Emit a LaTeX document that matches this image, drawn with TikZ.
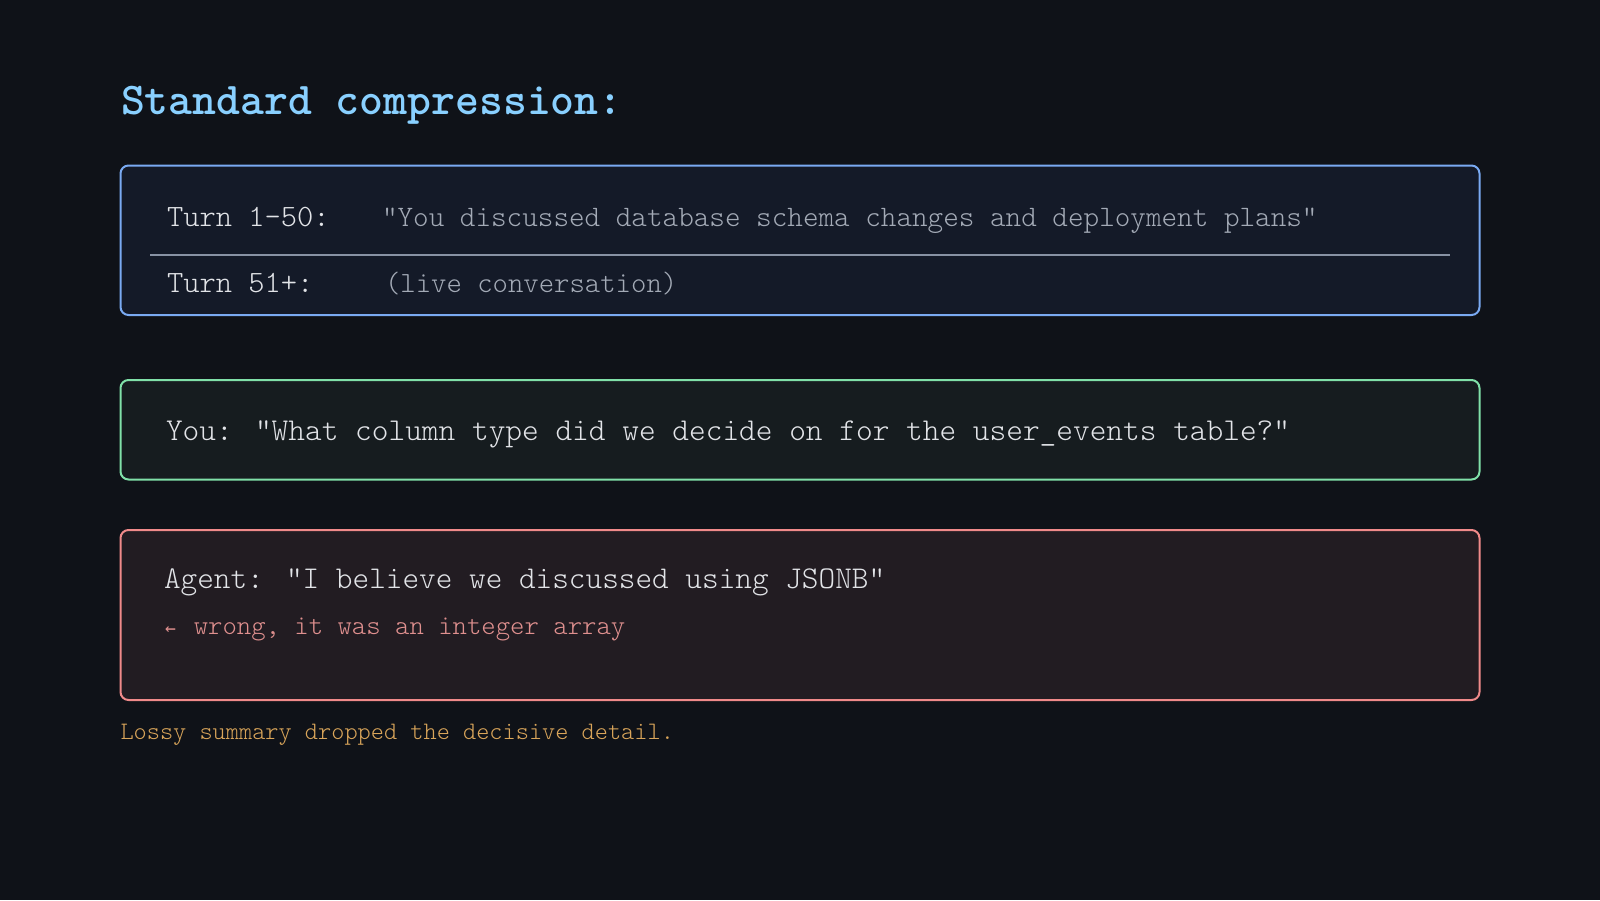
\documentclass[tikz,border=0pt]{standalone}
\usepackage{fontspec}
\newfontfamily\arrowfont{DejaVu Sans Mono}
\newfontfamily\lightmono{Latin Modern Mono Light}
\definecolor{bg}{HTML}{0F1218}
\definecolor{titlecol}{HTML}{89D0FF}
\definecolor{bluebd}{HTML}{7AAAF2}
\definecolor{bluefill}{HTML}{141A28}
\definecolor{greenbd}{HTML}{80E0A8}
\definecolor{greenfill}{HTML}{161C1F}
\definecolor{redbd}{HTML}{F08A8A}
\definecolor{redfill}{HTML}{221C22}
\definecolor{divcol}{HTML}{8892A4}
\definecolor{maintxt}{HTML}{E2E4E8}
\definecolor{graytxt}{HTML}{A3AAB6}
\definecolor{wrongtxt}{HTML}{E0908F}
\definecolor{ambertxt}{HTML}{D9A55A}
\tikzset{
  panel/.style={line width=2pt, rounded corners=8pt},
  txt/.style={anchor=base west, inner sep=0pt, outer sep=0pt, font=\lightmono},
}
\begin{document}
\begin{tikzpicture}[x=1pt,y=-1pt]
\fill[bg] (0,0) rectangle (1600,900);
\useasboundingbox (0,0) rectangle (1600,900);

\node[txt, text=titlecol, font=\ttfamily\bfseries\fontsize{45.5}{45.5}\selectfont] (title) at (121,114) {Standard compression:};

% box 1
\draw[panel, draw=bluebd, fill=bluefill] (120.5,165.5) rectangle (1479.5,315);
\coordinate (divL) at (150,255);
\coordinate (divR) at (1450,255);
\draw[divcol, line width=2pt] (divL) -- (divR);
\node[txt, text=maintxt, font=\lightmono\fontsize{31}{31}\selectfont] (l1) at (167,226) {Turn 1-50:};
\node[txt, text=graytxt, font=\lightmono\fontsize{29.7}{29.7}\selectfont] (s1) at (382,226) {"You discussed database schema changes and deployment plans"};
\node[txt, text=maintxt, font=\lightmono\fontsize{31}{31}\selectfont] (l2) at (167,292.5) {Turn 51+:};
\node[txt, text=graytxt, font=\lightmono\fontsize{29.3}{29.3}\selectfont] (s2) at (385,292.5) {(live conversation)};

% box 2
\draw[panel, draw=greenbd, fill=greenfill] (120.5,380) rectangle (1479.5,479.5);
\node[txt, text=maintxt, font=\lightmono\fontsize{31.8}{31.8}\selectfont] (you) at (166,440.5) {You: "What column type did we decide on for the user\_events table?"};

% box 3
\draw[panel, draw=redbd, fill=redfill] (120.5,530) rectangle (1479.5,700);
\node[txt, text=maintxt, font=\lightmono\fontsize{31.7}{31.7}\selectfont] (agent) at (164,588.5) {Agent: "I believe we discussed using JSONB"};
\node[txt, text=wrongtxt, font=\lightmono\fontsize{27.4}{27.4}\selectfont] (wrong) at (165,634) {\makebox[1.05em][l]{\arrowfont\fontsize{18}{18}\selectfont ←}wrong, it was an integer array};

\node[txt, text=ambertxt, font=\lightmono\fontsize{25.1}{25.1}\selectfont] (foot) at (120.5,739) {Lossy summary dropped the decisive detail.};
\end{tikzpicture}
\end{document}
